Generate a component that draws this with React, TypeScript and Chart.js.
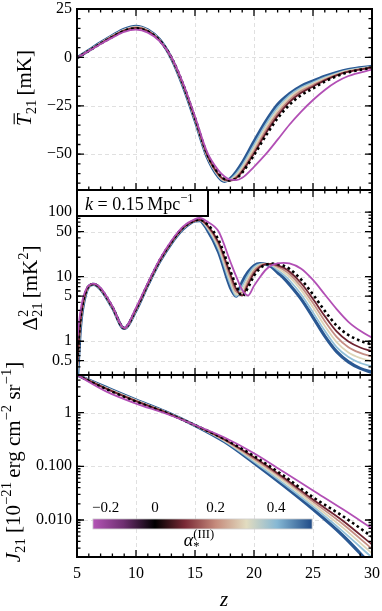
import React, { useEffect, useRef } from "react";
import { Chart, registerables } from "chart.js";
Chart.register(...registerables);

const FONT = '"Liberation Serif", "DejaVu Serif", serif';
const TICK_SIZE = 16;
const TITLE_SIZE = 21;

// ---------------- data ----------------
const ALPHAS = [-0.2, 0, 0.1, 0.2, 0.3, 0.4, 0.5];

// Panel 1: mean brightness temperature [mK]
const Z_T21 = [5, 6, 7, 8, 9, 10, 11, 12, 13, 14, 15, 16, 17, 17.5, 18, 18.5, 19, 20, 21, 22, 23, 24, 25, 26, 27, 28, 30];
const T21_M02 = [-0.3, 3.3, 6.9, 10.2, 13.2, 14.3, 12.8, 8.4, 0.2, -13.5, -30.5, -48.5, -58.5, -61.5, -63.2, -63.4, -62.2, -56.5, -50, -42.5, -34.8, -28, -22, -16.8, -12.6, -9.6, -6.3];
const T21_A00 = [-0.3, 3.4, 7.1, 10.6, 13.7, 15.0, 13.4, 8.8, 0, -14, -31.3, -49.5, -60, -62.8, -63.6, -62.5, -59.5, -50.5, -40.5, -31.5, -24.5, -19.5, -16, -12.5, -9.7, -7.7, -5.3];
const T21_A01 = [-0.3, 3.4, 7.2, 10.75, 13.8, 15.2, 13.6, 8.85, -0.1, -14.2, -31.5, -49.8, -60.5, -63.1, -63.6, -62.3, -59, -49.6, -39.2, -30.2, -23.1, -18.3, -15, -11.9, -9.3, -7.4, -5.2];
const T21_A02 = [-0.3, 3.45, 7.3, 10.9, 14.0, 15.5, 13.8, 8.9, -0.2, -14.4, -31.8, -50.2, -60.9, -63.4, -63.5, -61.8, -58.2, -48.4, -37.8, -28.8, -21.9, -17.3, -14.3, -11.4, -9.0, -7.2, -5.1];
const T21_A03 = [-0.3, 3.5, 7.4, 11.1, 14.2, 15.7, 14.0, 9.0, -0.3, -14.6, -32, -50.5, -61.2, -63.6, -63.3, -61, -57, -46.8, -36.2, -27.3, -20.7, -16.4, -13.6, -10.8, -8.6, -6.9, -4.95];
const T21_A04 = [-0.3, 3.55, 7.5, 11.2, 14.4, 15.9, 14.1, 9.1, -0.4, -14.8, -32.3, -50.8, -61.5, -63.8, -63, -60, -55.8, -45.2, -34.6, -25.8, -19.6, -15.6, -12.9, -10.3, -8.2, -6.6, -4.8];
const T21_A05 = [-0.3, 3.6, 7.6, 11.3, 14.6, 16.1, 14.2, 9.2, -0.5, -15, -32.5, -51, -61.8, -64, -62.5, -59, -54.5, -43.5, -33, -24.3, -18.8, -14.8, -12.2, -9.8, -7.8, -6.3, -4.6];

// Panel 2: power spectrum at k = 0.15 Mpc^-1 [mK^2]
const Z_PS = [5, 5.3, 5.7, 6.4, 7, 8, 9, 10, 11, 12, 13, 14, 15, 15.4, 16, 17, 18, 18.5, 19, 19.5, 20, 20.5, 21, 21.5, 22, 22.5, 23, 24, 25, 26, 27, 28, 29, 30];
const PS_M02 = [1.0, 3.0, 6.0, 7.8, 6.7, 3.5, 1.6, 3.3, 8.0, 18.5, 36, 60, 78, 81, 72, 50, 17, 10, 6.2, 5.1, 7.2, 9.8, 12.8, 15, 16.1, 16.3, 16.0, 13.3, 8.9, 5.3, 3.15, 2.0, 1.45, 1.13];
const PS_A00 = [0.5, 2.2, 5.5, 7.7, 6.5, 3.4, 1.59, 3.15, 7.7, 17.8, 34.5, 58, 74.5, 76.5, 66, 37, 12.2, 7.2, 5.0, 6.8, 10.3, 13.4, 15.3, 15.9, 15.7, 14.8, 13.2, 9.0, 5.3, 2.95, 1.75, 1.25, 1.02, 0.89];
const PS_A01 = [0.4, 2.1, 5.4, 7.7, 6.5, 3.4, 1.59, 3.1, 7.6, 17.6, 34, 57.5, 74, 76, 64, 34, 10.9, 6.4, 5.1, 7.6, 11.3, 14.1, 15.6, 15.8, 15.0, 13.8, 12, 7.9, 4.5, 2.45, 1.42, 0.99, 0.8, 0.7];
const PS_A02 = [0.35, 2.0, 5.3, 7.65, 6.45, 3.35, 1.58, 3.08, 7.55, 17.4, 33.8, 57, 74, 75.5, 62, 31.5, 9.7, 5.8, 5.6, 8.5, 12.2, 14.7, 15.8, 15.5, 14.3, 12.8, 11, 7.0, 3.9, 2.05, 1.17, 0.81, 0.66, 0.58];
const PS_A03 = [0.3, 1.9, 5.2, 7.65, 6.45, 3.35, 1.58, 3.05, 7.5, 17.3, 33.5, 56.8, 73.5, 75, 60, 29, 8.6, 5.3, 6.3, 9.5, 13.1, 15.2, 15.8, 15.2, 13.5, 11.8, 9.9, 6.2, 3.35, 1.72, 0.97, 0.67, 0.55, 0.49];
const PS_A04 = [0.25, 1.8, 5.15, 7.6, 6.4, 3.3, 1.58, 3.02, 7.45, 17.1, 33.2, 56.4, 73, 74.5, 58, 26.5, 7.6, 5.0, 7.2, 10.6, 14, 15.6, 15.7, 14.8, 12.6, 10.7, 8.8, 5.3, 2.8, 1.45, 0.81, 0.57, 0.46, 0.41];
const PS_A05 = [0.2, 1.7, 5.1, 7.6, 6.4, 3.3, 1.58, 3.0, 7.4, 17, 33, 55, 73, 74, 55, 24, 6.8, 5.0, 8.3, 11.8, 14.8, 16, 15.6, 14.2, 11.6, 9.6, 7.6, 4.5, 2.35, 1.2, 0.69, 0.48, 0.38, 0.33];

// Panel 3: Lyman-alpha background
const Z_J21 = [5, 7.5, 10, 12.5, 15, 17.5, 20, 22.5, 25, 27.5, 30];
const J21_M02 = [5.0, 2.45, 1.47, 0.96, 0.586, 0.343, 0.175, 0.079, 0.0355, 0.016, 0.007];
const J21_A00 = [5.0, 2.72, 1.6, 1.0, 0.582, 0.323, 0.155, 0.067, 0.0266, 0.0119, 0.0049];
const J21_A01 = [5.0, 2.76, 1.63, 1.01, 0.58, 0.316, 0.147, 0.062, 0.024, 0.0098, 0.0035];
const J21_A02 = [5.0, 2.8, 1.655, 1.02, 0.579, 0.308, 0.138, 0.058, 0.022, 0.0085, 0.0029];
const J21_A03 = [5.0, 2.84, 1.68, 1.025, 0.578, 0.3, 0.13, 0.053, 0.0198, 0.0073, 0.0024];
const J21_A04 = [5.0, 2.88, 1.7, 1.03, 0.577, 0.293, 0.122, 0.048, 0.0178, 0.0062, 0.002];
const J21_A05 = [5.0, 2.92, 1.72, 1.04, 0.575, 0.286, 0.115, 0.0437, 0.0158, 0.0052, 0.0014];

// ticks
const X_TICKS = [5, 10, 15, 20, 25, 30];
const X_TICK_LABELS = ["5", "10", "15", "20", "25", "30"];
const Y1_TICKS = [25, 0, -25, -50];
const Y1_TICK_LABELS = ["25", "0", "\u221225", "\u221250"];
const Y2_TICKS = [100, 50, 10, 5, 1, 0.5];
const Y2_TICK_LABELS = ["100", "50", "10", "5", "1", "0.5"];
const Y3_TICKS = [1, 0.1, 0.01];
const Y3_TICK_LABELS = ["1", "0.100", "0.010"];
const CB_TICKS = [-0.2, 0, 0.2, 0.4];
const CB_TICK_LABELS = ["\u22120.2", "0", "0.2", "0.4"];
const CB_RANGE = [-0.205, 0.519];

// ---------------- style ----------------
const LINE_COLORS = ["#b24fb5", "#000000", "#6e2331", "#c48d83", "#ddd5b8", "#92c0d8", "#2a5893"];
const LINE_WIDTHS = [1.8, 2.6, 1.8, 1.8, 1.8, 1.8, 3.2];
const LINE_DASH: number[][] = [[], [2.6, 3], [], [], [], [], []];
const CB_STOPS: [number, string][] = [
  [0, "#b455b6"], [0.14, "#6e2f70"], [0.283, "#000000"], [0.42, "#7a2a36"],
  [0.56, "#c58b7c"], [0.7, "#e2dcc0"], [0.84, "#86b8d4"], [1, "#204b87"],
];

type Seg = { t: string; it?: boolean; sub?: boolean; sup?: boolean; over?: boolean; sup2?: string };

function fontStr(size: number, it?: boolean) {
  return `${it ? "italic " : ""}${size}px ${FONT}`;
}

function drawRich(ctx: CanvasRenderingContext2D, segs: Seg[], x: number, y: number, size: number, align: "center" | "left") {
  const small = size * 0.7;
  const widths = segs.map((s) => {
    const sz = s.sub || s.sup ? small : size;
    ctx.font = fontStr(sz, s.it);
    let w = ctx.measureText(s.t).width;
    if (s.sup2) {
      ctx.font = fontStr(small, false);
      w = Math.max(w, ctx.measureText(s.sup2).width);
    }
    return w;
  });
  const total = widths.reduce((a, b) => a + b, 0);
  let cx = align === "center" ? x - total / 2 : x;
  ctx.fillStyle = "#000";
  ctx.textBaseline = "alphabetic";
  ctx.textAlign = "left";
  segs.forEach((s, i) => {
    const sz = s.sub || s.sup ? small : size;
    ctx.font = fontStr(sz, s.it);
    const dy = s.sub ? size * 0.24 : s.sup ? -size * 0.42 : 0;
    ctx.fillText(s.t, cx, y + dy);
    if (s.sup2) {
      ctx.font = fontStr(small, false);
      ctx.fillText(s.sup2, cx, y - size * 0.42);
    }
    if (s.over) {
      ctx.save();
      ctx.strokeStyle = "#000";
      ctx.lineWidth = 1.1;
      ctx.beginPath();
      ctx.moveTo(cx + size * 0.08, y - size * 0.8);
      ctx.lineTo(cx + widths[i] + size * 0.05, y - size * 0.8);
      ctx.stroke();
      ctx.restore();
    }
    cx += widths[i];
  });
}

function drawRotated(ctx: CanvasRenderingContext2D, segs: Seg[], bx: number, cy: number, size: number) {
  ctx.save();
  ctx.translate(bx, cy);
  ctx.rotate(-Math.PI / 2);
  drawRich(ctx, segs, 0, 0, size, "center");
  ctx.restore();
}

function makeDatasets(z: number[], series: number[][]) {
  return series.map((vals, i) => ({
    label: `\u03b1 = ${ALPHAS[i]}`,
    data: vals.map((v, j) => ({ x: z[j], y: v })),
    borderColor: LINE_COLORS[i],
    borderWidth: LINE_WIDTHS[i],
    borderDash: LINE_DASH[i],
    borderCapStyle: "butt",
    pointRadius: 0,
    fill: false,
    cubicInterpolationMode: "monotone",
    clip: 0,
  }));
}

function logMinor(min: number, max: number) {
  const out: number[] = [];
  for (let e = -4; e <= 3; e++) {
    for (let k = 1; k <= 9; k++) {
      const v = k * Math.pow(10, e);
      if (v >= min && v <= max) out.push(v);
    }
  }
  return out;
}

function linMinor(min: number, max: number, step: number) {
  const out: number[] = [];
  for (let v = Math.ceil(min / step) * step; v <= max; v += step) out.push(v);
  return out;
}

const X_GRID = [10, 15, 20, 25];
const X_MINOR = linMinor(5, 30, 1);

function decoPlugin(opts: { yMajor: number[]; yMinor: number[]; extra?: (chart: any) => void }) {
  return {
    id: "panelDeco",
    beforeDatasetsDraw(chart: any) {
      const { ctx, chartArea: a, scales } = chart;
      ctx.save();
      ctx.beginPath();
      ctx.rect(a.left, a.top, a.right - a.left, a.bottom - a.top);
      ctx.clip();
      ctx.strokeStyle = "#dcdcdc";
      ctx.lineWidth = 0.9;
      ctx.setLineDash([4, 3]);
      for (const v of X_GRID) {
        const px = Math.round(scales.x.getPixelForValue(v)) + 0.5;
        ctx.beginPath();
        ctx.moveTo(px, a.top);
        ctx.lineTo(px, a.bottom);
        ctx.stroke();
      }
      for (const v of opts.yMajor) {
        const py = Math.round(scales.y.getPixelForValue(v)) + 0.5;
        ctx.beginPath();
        ctx.moveTo(a.left, py);
        ctx.lineTo(a.right, py);
        ctx.stroke();
      }
      ctx.restore();
    },
    afterDatasetsDraw(chart: any) {
      const { ctx, chartArea: a, scales } = chart;
      ctx.save();
      ctx.strokeStyle = "#000";
      ctx.lineWidth = 1.3;
      ctx.setLineDash([]);
      for (const v of X_MINOR) {
        const px = scales.x.getPixelForValue(v);
        const len = X_TICKS.includes(v) ? 7 : 3.5;
        ctx.beginPath();
        ctx.moveTo(px, a.bottom);
        ctx.lineTo(px, a.bottom - len);
        ctx.moveTo(px, a.top);
        ctx.lineTo(px, a.top + len);
        ctx.stroke();
      }
      const ys = [...opts.yMinor.map((v) => [v, 3.5]), ...opts.yMajor.map((v) => [v, 7])];
      for (const [v, len] of ys) {
        const py = scales.y.getPixelForValue(v);
        if (py < a.top - 0.5 || py > a.bottom + 0.5) continue;
        ctx.beginPath();
        ctx.moveTo(a.left, py);
        ctx.lineTo(a.left + len, py);
        ctx.moveTo(a.right, py);
        ctx.lineTo(a.right - len, py);
        ctx.stroke();
      }
      ctx.lineWidth = 2;
      ctx.strokeRect(a.left, a.top, a.right - a.left, a.bottom - a.top);
      ctx.restore();
      if (opts.extra) opts.extra(chart);
    },
  };
}

function yAxis(type: "linear" | "logarithmic", min: number, max: number, ticks: number[], labels: string[]) {
  return {
    type,
    min,
    max,
    afterFit: (s: any) => {
      s.width = 77;
      s.paddingTop = 0;
      s.paddingBottom = 0;
    },
    afterBuildTicks: (s: any) => {
      s.ticks = ticks.map((v) => ({ value: v }));
    },
    ticks: {
      autoSkip: false,
      padding: 5,
      color: "#000",
      font: { family: FONT, size: TICK_SIZE },
      callback: (v: number) => {
        const i = ticks.findIndex((t) => Math.abs(t - v) < Math.abs(t) * 1e-6 + 1e-12);
        return i >= 0 ? labels[i] : "";
      },
    },
    grid: { display: false, drawTicks: false },
    border: { display: false },
  };
}

function xAxis(show: boolean) {
  return {
    type: "linear",
    min: 5,
    max: 30,
    display: show,
    afterFit: (s: any) => {
      s.height = show ? 54 : 0;
      s.paddingLeft = 0;
      s.paddingRight = 0;
    },
    afterBuildTicks: (s: any) => {
      s.ticks = X_TICKS.map((v) => ({ value: v }));
    },
    ticks: {
      autoSkip: false,
      maxRotation: 0,
      padding: 7,
      color: "#000",
      font: { family: FONT, size: TICK_SIZE },
      callback: (v: number) => {
        const i = X_TICKS.indexOf(v);
        return i >= 0 ? X_TICK_LABELS[i] : "";
      },
    },
    grid: { display: false, drawTicks: false },
    border: { display: false },
  };
}

function baseOptions(padding: any, y: any, showX: boolean) {
  return {
    responsive: false,
    animation: false,
    devicePixelRatio: 1,
    layout: { padding },
    plugins: { legend: { display: false }, tooltip: { enabled: false } },
    scales: { x: xAxis(showX), y },
  };
}

const T_OFF = 0;
const M_OFF = 188;
const B_OFF = 350;

export default function App() {
  const c1 = useRef<HTMLCanvasElement>(null);
  const c2 = useRef<HTMLCanvasElement>(null);
  const c3 = useRef<HTMLCanvasElement>(null);

  useEffect(() => {
    const charts: Chart[] = [];

    const extra1 = (chart: any) => {
      drawRotated(chart.ctx, [{ t: "T", it: true, over: true }, { t: "21", sub: true }, { t: "\u2009[mK]" }], 31, 88 - T_OFF, TITLE_SIZE);
    };
    charts.push(
      new Chart(c1.current!, {
        type: "line",
        data: { datasets: makeDatasets(Z_T21, [T21_M02, T21_A00, T21_A01, T21_A02, T21_A03, T21_A04, T21_A05]) as any },
        options: baseOptions({ left: 0, right: 10, top: 9, bottom: 2 }, yAxis("linear", -68.5, 25, Y1_TICKS, Y1_TICK_LABELS), false) as any,
        plugins: [decoPlugin({ yMajor: Y1_TICKS, yMinor: linMinor(-68.5, 25, 5), extra: extra1 })],
      })
    );

    const extra2 = (chart: any) => {
      const ctx: CanvasRenderingContext2D = chart.ctx;
      const a = chart.chartArea;
      const bx = a.left, by = a.top, bw = 131, bh = 26;
      ctx.save();
      ctx.fillStyle = "#fff";
      ctx.fillRect(bx, by, bw, bh);
      ctx.strokeStyle = "#000";
      ctx.lineWidth = 2;
      ctx.strokeRect(bx, by, bw, bh);
      ctx.restore();
      drawRich(ctx, [{ t: "k", it: true }, { t: " = 0.15\u2009Mpc" }, { t: "\u22121", sup: true }], bx + 8, by + 20, 18, "left");
      drawRotated(ctx, [{ t: "\u0394" }, { t: "21", sub: true, sup2: "2" }, { t: "\u2009[mK" }, { t: "2", sup: true }, { t: "]" }], 37, 288 - M_OFF, TITLE_SIZE);
    };
    charts.push(
      new Chart(c2.current!, {
        type: "line",
        data: { datasets: makeDatasets(Z_PS, [PS_M02, PS_A00, PS_A01, PS_A02, PS_A03, PS_A04, PS_A05]) as any },
        options: baseOptions({ left: 0, right: 10, top: 2, bottom: 2 }, yAxis("logarithmic", 0.315, 220, Y2_TICKS, Y2_TICK_LABELS), false) as any,
        plugins: [decoPlugin({ yMajor: Y2_TICKS, yMinor: logMinor(0.315, 220), extra: extra2 })],
      })
    );

    const extra3 = (chart: any) => {
      const ctx: CanvasRenderingContext2D = chart.ctx;
      const a = chart.chartArea;
      const w = a.right - a.left, h = a.bottom - a.top;
      const x0 = a.left + 0.054 * w, x1 = a.left + 0.797 * w;
      const y0 = a.top + 0.791 * h, y1 = a.top + 0.846 * h;
      const g = ctx.createLinearGradient(x0, 0, x1, 0);
      CB_STOPS.forEach(([f, c]) => g.addColorStop(f, c));
      ctx.save();
      ctx.fillStyle = g;
      ctx.fillRect(x0, y0, x1 - x0, y1 - y0);
      ctx.strokeStyle = "#cfcfcf";
      ctx.lineWidth = 0.8;
      ctx.strokeRect(x0, y0, x1 - x0, y1 - y0);
      ctx.fillStyle = "#000";
      ctx.font = fontStr(15);
      ctx.textBaseline = "alphabetic";
      CB_TICKS.forEach((v, i) => {
        const f = (v - CB_RANGE[0]) / (CB_RANGE[1] - CB_RANGE[0]);
        const px = x0 + f * (x1 - x0);
        // first label sits flush with the bar's left edge, as in the original
        ctx.textAlign = i === 0 ? "left" : "center";
        ctx.fillText(CB_TICK_LABELS[i], i === 0 ? x0 - 1 : px, y0 - 7);
      });
      ctx.restore();
      drawRich(ctx, [{ t: "\u03b1", it: true }, { t: "*", sub: true, sup2: "(III)" }], 199, 546 - B_OFF, 18, "center");
      drawRotated(
        ctx,
        [
          { t: "J", it: true }, { t: "21", sub: true }, { t: " [10" }, { t: "\u221221", sup: true },
          { t: "\u2009erg cm" }, { t: "\u22122", sup: true }, { t: " sr" }, { t: "\u22121", sup: true }, { t: "]" },
        ],
        20, 462 - B_OFF, TITLE_SIZE
      );
      drawRich(ctx, [{ t: "z", it: true }], 224, 606 - B_OFF, TITLE_SIZE, "center");
    };
    charts.push(
      new Chart(c3.current!, {
        type: "line",
        data: { datasets: makeDatasets(Z_J21, [J21_M02, J21_A00, J21_A01, J21_A02, J21_A03, J21_A04, J21_A05]) as any },
        options: baseOptions({ left: 0, right: 10, top: 25, bottom: 0 }, yAxis("logarithmic", 0.00205, 5.0, Y3_TICKS, Y3_TICK_LABELS), true) as any,
        plugins: [decoPlugin({ yMajor: Y3_TICKS, yMinor: logMinor(0.00205, 5.0), extra: extra3 })],
      })
    );

    return () => charts.forEach((c) => c.destroy());
  }, []);

  const cs = (top: number, h: number): React.CSSProperties => ({ position: "absolute", left: 0, top, width: 382, height: h });
  return (
    <div style={{ position: "fixed", left: 0, top: 0, width: 382, height: 611, background: "#fff", overflow: "hidden" }}>
      <canvas ref={c1} width={382} height={192} style={cs(T_OFF, 192)} />
      <canvas ref={c2} width={382} height={189} style={cs(M_OFF, 189)} />
      <canvas ref={c3} width={382} height={261} style={cs(B_OFF, 261)} />
    </div>
  );
}
